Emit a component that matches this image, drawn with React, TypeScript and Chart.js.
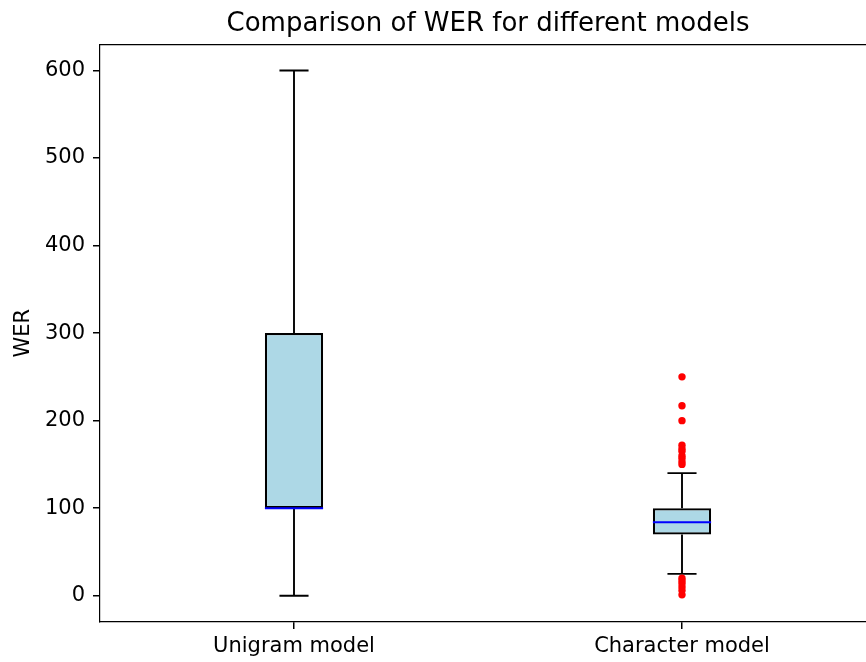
import React, { useEffect, useRef } from "react";
import { Chart, registerables } from "chart.js";

Chart.register(...registerables);

// ---- data ----
const categories = ["Unigram model", "Character model"];
const whiskerLow = [0, 25];
const q1 = [100, 70];
const median = [100, 84];
const q3 = [300, 100];
const whiskerHigh = [600, 140];
const outliersUnigram: number[] = [];
const outliersCharacter = [250, 217, 200, 172, 168, 165, 160, 157, 153, 150, 20, 17, 14, 10, 6, 1];
const yTickValues = [0, 100, 200, 300, 400, 500, 600];
const titleText = "Comparison of WER for different models";
const yLabel = "WER";

// ---- style ----
const BOX_WIDTH = 0.15;
const FONT = "'DejaVu Sans', 'Liberation Sans', sans-serif";
const BOX_FILL = "#add8e6";
const LW = 1.9;

export default function App() {
  const ref = useRef<HTMLCanvasElement | null>(null);

  useEffect(() => {
    if (!ref.current) return;
    const outliers = [outliersUnigram, outliersCharacter];
    const lineDs = (pts: { x: number; y: number }[], color: string, width: number) => ({
      type: "scatter" as const,
      data: pts,
      showLine: true,
      borderColor: color,
      borderWidth: width,
      pointRadius: 0,
      pointHoverRadius: 0,
      order: 1,
    });
    const datasets: any[] = [];
    categories.forEach((_, i) => {
      const x = i + 1;
      datasets.push(lineDs([{ x, y: whiskerLow[i] }, { x, y: q1[i] }], "#000", LW));
      datasets.push(lineDs([{ x, y: q3[i] }, { x, y: whiskerHigh[i] }], "#000", LW));
      datasets.push(
        lineDs([{ x: x - BOX_WIDTH / 4, y: whiskerLow[i] }, { x: x + BOX_WIDTH / 4, y: whiskerLow[i] }], "#000", LW)
      );
      datasets.push(
        lineDs([{ x: x - BOX_WIDTH / 4, y: whiskerHigh[i] }, { x: x + BOX_WIDTH / 4, y: whiskerHigh[i] }], "#000", LW)
      );
      datasets.push({
        ...lineDs([{ x: x - BOX_WIDTH / 2, y: median[i] }, { x: x + BOX_WIDTH / 2, y: median[i] }], "#0000ff", LW),
        order: 0,
      });
    });
    datasets.push({
      type: "scatter",
      data: outliers.flatMap((arr, i) => arr.map((v) => ({ x: i + 1, y: v }))),
      pointRadius: 3.7,
      pointBackgroundColor: "#ff0000",
      pointBorderWidth: 0,
      borderWidth: 0,
      showLine: false,
      order: 0,
    });
    datasets.push({
      type: "bar",
      data: categories.map((_, i) => ({ x: i + 1, y: [q1[i], q3[i]] })),
      backgroundColor: BOX_FILL,
      borderColor: "#000",
      borderWidth: 2.2,
      borderSkipped: false,
      barPercentage: BOX_WIDTH,
      categoryPercentage: 1,
      grouped: false,
      order: 5,
    });

    const tickFont = { family: FONT, size: 21 };
    const gridOpts = {
      display: true,
      offset: false,
      drawOnChartArea: false,
      drawTicks: true,
      tickLength: 7,
      color: "#000",
      tickColor: "#000",
      tickWidth: 1.5,
      lineWidth: 1.5,
    };
    const chart = new Chart(ref.current, {
      type: "bar",
      data: { datasets },
      options: {
        animation: false,
        responsive: false,
        events: [],
        layout: { padding: { left: 0, right: 0, top: 0, bottom: 0 } },
        plugins: {
          legend: { display: false },
          tooltip: { enabled: false },
          title: {
            display: true,
            text: titleText,
            color: "#000",
            font: { family: FONT, size: 26, weight: "normal" },
            padding: { top: 9, bottom: 0 },
          },
        },
        scales: {
          x: {
            type: "linear",
            position: "bottom",
            min: 0.5,
            max: 2.5,
            offset: false,
            afterBuildTicks: (s: any) => {
              s.ticks = categories.map((_, i) => ({ value: i + 1 }));
            },
            afterFit: (s: any) => {
              s.height = 40;
            },
            ticks: {
              autoSkip: false,
              maxRotation: 0,
              color: "#000",
              font: tickFont,
              padding: 5,
              callback: (v: any) => categories[Number(v) - 1] ?? "",
            },
            grid: gridOpts,
            border: { display: true, color: "#000", width: 1.2 },
          },
          xTop: {
            type: "linear",
            position: "top",
            min: 0.5,
            max: 2.5,
            afterFit: (s: any) => {
              s.height = 4;
            },
            ticks: { display: false },
            grid: { display: true, offset: false, drawOnChartArea: false, drawTicks: false },
            border: { display: true, color: "#000", width: 1.2 },
          },
          y: {
            type: "linear",
            position: "left",
            min: -30,
            max: 630,
            afterBuildTicks: (s: any) => {
              s.ticks = yTickValues.map((v) => ({ value: v }));
            },
            afterFit: (s: any) => {
              s.width = 100;
            },
            ticks: { color: "#000", font: tickFont, padding: 8 },
            grid: gridOpts,
            border: { display: true, color: "#000", width: 1.2 },
            title: {
              display: true,
              text: yLabel,
              color: "#000",
              font: { family: FONT, size: 21 },
              padding: { top: 11, bottom: 0 },
            },
          },
          yRight: {
            type: "linear",
            position: "right",
            min: -30,
            max: 630,
            afterFit: (s: any) => {
              s.width = 100;
            },
            ticks: { display: false },
            grid: { display: false, drawOnChartArea: false, drawTicks: false },
            border: { display: true, color: "#000", width: 1.2 },
          },
        },
      } as any,
    });
    return () => chart.destroy();
  }, []);

  return (
    <div
      style={{
        position: "absolute",
        left: 0,
        top: 0,
        width: 866,
        height: 662,
        overflow: "hidden",
        background: "#fff",
      }}
    >
      <canvas ref={ref} width={976} height={662} style={{ width: 976, height: 662, display: "block" }} />
    </div>
  );
}
